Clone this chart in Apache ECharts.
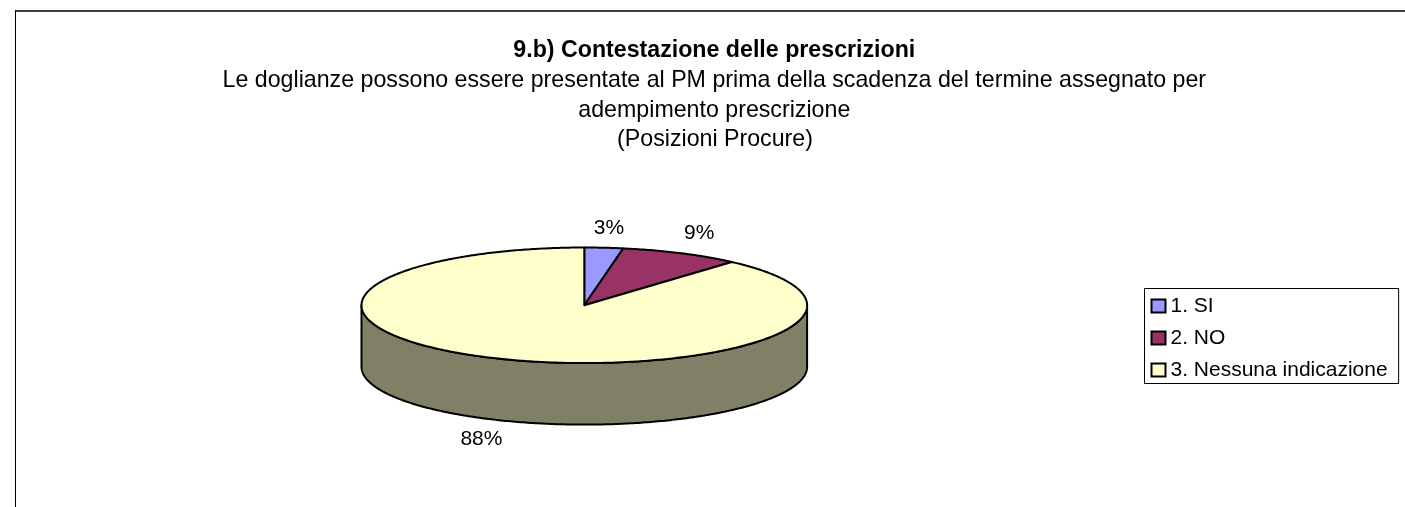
<!DOCTYPE html>
<html>
<head>
<meta charset="utf-8">
<style>html,body{margin:0;padding:0;background:#fff;overflow:hidden}#c{width:1405px;height:507px}</style>
<script src="https://cdn.jsdelivr.net/npm/echarts@6/dist/echarts.min.js"></script>
</head>
<body>
<div id="c"></div>
<script>
const categories = ['1. SI', '2. NO', '3. Nessuna indicazione'];
const values = [2.8, 8.72, 88.48];
const colors = ['#9999FF', '#993366', '#FFFFCC'];
const sideColors = ['#4C4C80', '#4D1A33', '#808066'];
const titleLines = [
  'Le doglianze possono essere presentate al PM prima della scadenza del termine assegnato per',
  'adempimento prescrizione',
  '(Posizioni Procure)'
];
const mainTitle = '9.b) Contestazione delle prescrizioni';

const FONT = '"Liberation Sans", Arial, sans-serif';
const FS = 21, TITLE_FS = 23.2;
const cx = 584.3, cy = 305.3, rx = 222.8, ry = 57.8, depth = 61.5;
const labelOffsets = [[5, -20], [18, -20], [-24, 18]];
const total = values.reduce((a, b) => a + b, 0);
const starts = [];
values.reduce((acc, v, i) => { starts[i] = acc; return acc + v; }, 0);

function pt(deg, dy) {
  const t = deg * Math.PI / 180;
  return [cx + rx * Math.sin(t), cy - ry * Math.cos(t) + (dy || 0)];
}
function arc(a, b, dy) {
  const pts = [], n = Math.max(2, Math.ceil(Math.abs(b - a) * 1.5));
  for (let i = 0; i <= n; i++) pts.push(pt(a + (b - a) * i / n, dy));
  return pts;
}
function renderSlice(idx) {
  return function () {
    const a = starts[idx] / total * 360;
    const b = (starts[idx] + values[idx]) / total * 360;
    const mid = (a + b) / 2;
    const children = [];
    const line = { stroke: '#000', lineWidth: 2, lineJoin: 'round' };
    const fa = Math.max(a, 90), fb = Math.min(b, 270);
    if (fb > fa) {
      children.push({
        type: 'polygon', silent: true,
        shape: { points: arc(fa, fb, 0).concat(arc(fb, fa, depth)) },
        style: Object.assign({ fill: sideColors[idx] }, line)
      });
    }
    children.push({
      type: 'polygon', silent: true,
      shape: { points: [[cx, cy]].concat(arc(a, b, 0)) },
      style: Object.assign({ fill: colors[idx] }, line)
    });
    const front = Math.cos(mid * Math.PI / 180) < 0;
    const anchor = pt(mid, front ? depth : 0);
    children.push({
      type: 'text', silent: true,
      style: {
        text: Math.round(values[idx] / total * 100) + '%',
        x: anchor[0] + labelOffsets[idx][0],
        y: anchor[1] + labelOffsets[idx][1],
        align: 'center', verticalAlign: 'middle',
        font: FS + 'px ' + FONT, fill: '#000'
      }
    });
    return { type: 'group', children: children };
  };
}

const titleStyle = { fontFamily: FONT, fontSize: TITLE_FS, fontWeight: 'normal', color: '#000' };
const lineCentres = [714.3, 714.3, 715];
const lineTops = [68.7, 98.7, 128.2];
const chart = echarts.init(document.getElementById('c'), null, { renderer: 'canvas' });
chart.setOption({
  animation: false,
  backgroundColor: '#fff',
  title: [{
    text: mainTitle, left: 714.3, top: 38.7, textAlign: 'center', padding: 0,
    textStyle: Object.assign({}, titleStyle, { fontWeight: 'bold' })
  }].concat(titleLines.map((t, i) => ({
    text: t, left: lineCentres[i], top: lineTops[i], textAlign: 'center', padding: 0, textStyle: titleStyle
  }))),
  legend: {
    orient: 'vertical', left: 1144.5, top: 288.5,
    padding: [7, 11, 3, 6], itemGap: 11,
    itemWidth: 14, itemHeight: 13, icon: 'rect',
    borderColor: '#000', borderWidth: 1, backgroundColor: '#fff',
    selectedMode: false,
    textStyle: { fontFamily: FONT, fontSize: FS, color: '#000' },
    itemStyle: { borderColor: '#000', borderWidth: 2 },
    data: categories
  },
  graphic: [
    { type: 'line', silent: true, shape: { x1: 15.5, y1: 11, x2: 1405, y2: 11 }, style: { stroke: '#000', lineWidth: 1.6 } },
    { type: 'line', silent: true, shape: { x1: 15.5, y1: 10, x2: 15.5, y2: 507 }, style: { stroke: '#000', lineWidth: 1 } }
  ],
  series: categories.map((name, i) => ({
    type: 'custom', name: name, coordinateSystem: 'none',
    itemStyle: { color: colors[i] },
    renderItem: renderSlice(i),
    data: [[values[i]]]
  }))
});
</script>
</body>
</html>
